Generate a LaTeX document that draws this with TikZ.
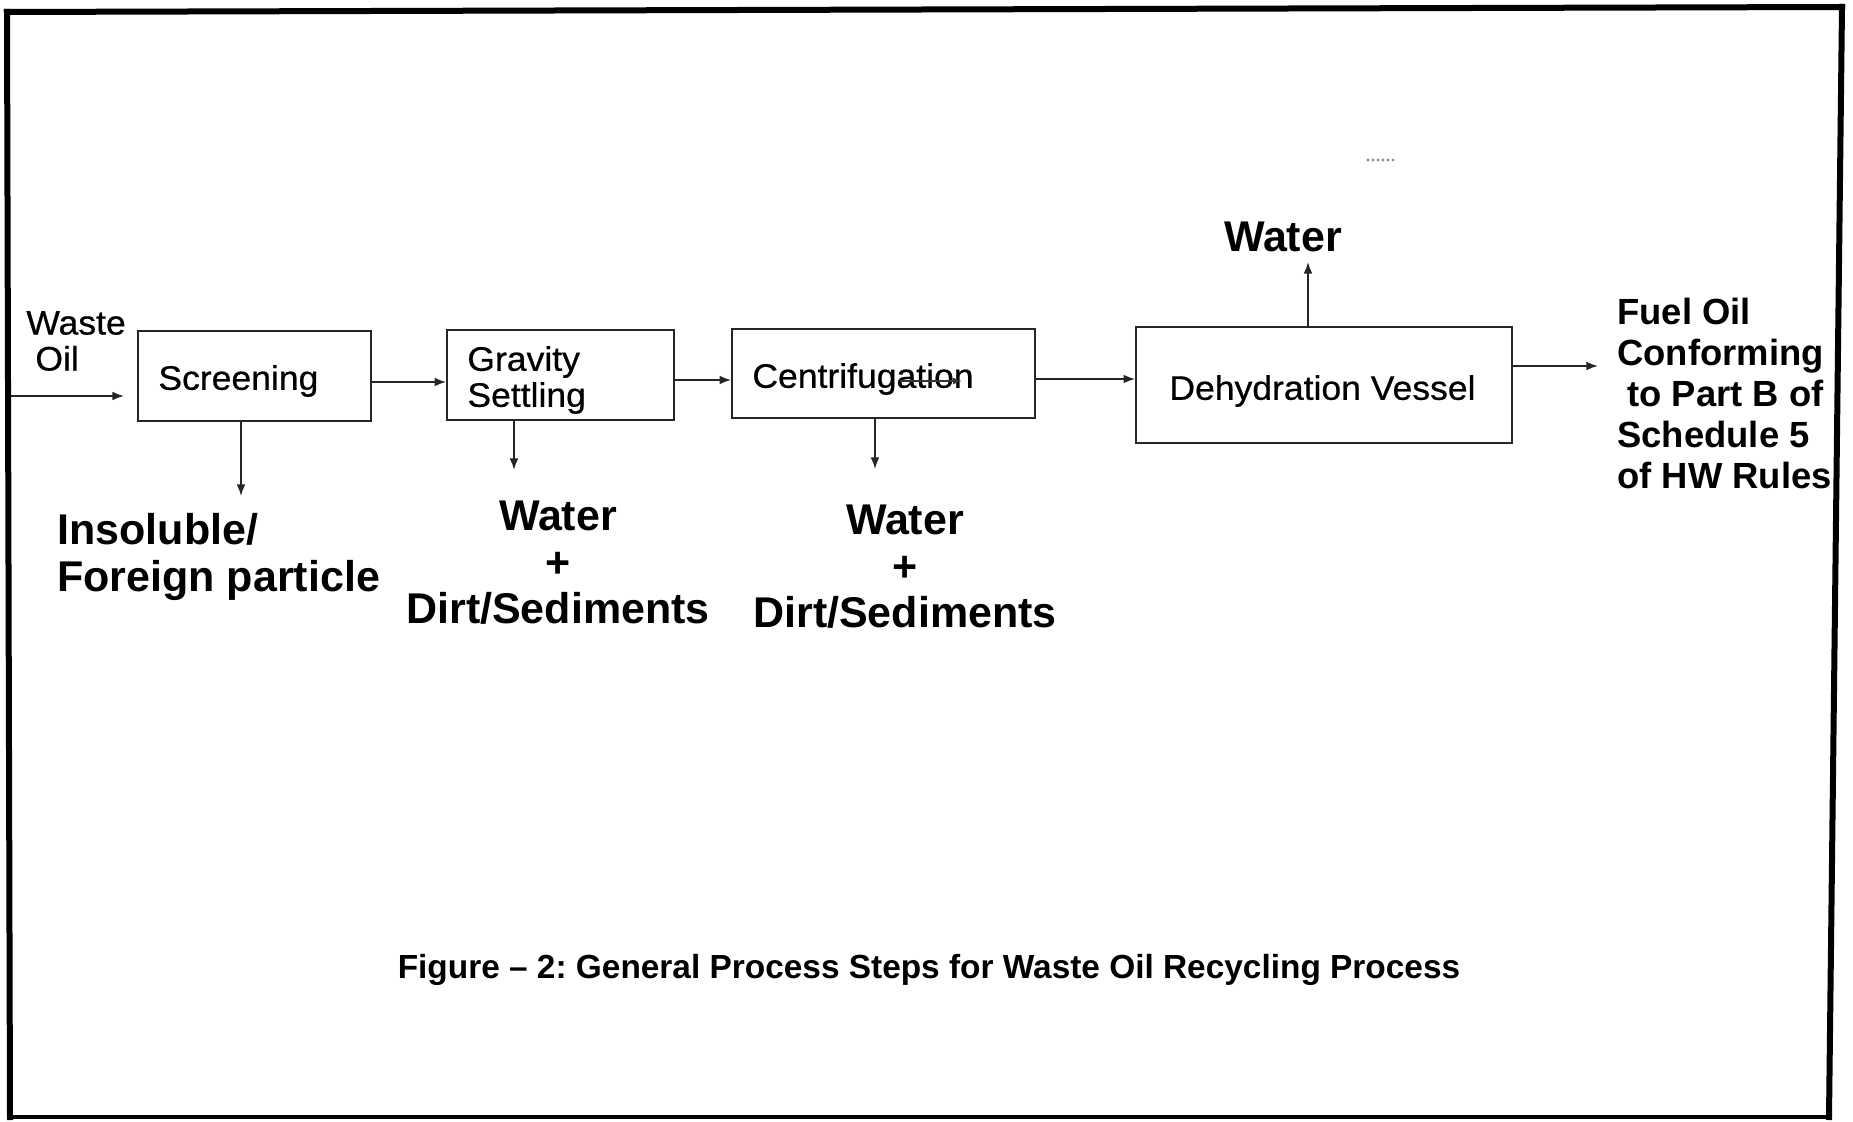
\documentclass[tikz,border=0pt]{standalone}
\usepackage{fontspec}
\setmainfont{Liberation Sans}
\newfontfamily\boxfont[FakeStretch=1.045,FakeBold=0.6]{Liberation Sans}
\usetikzlibrary{arrows.meta}
\frenchspacing
\begin{document}
\begin{tikzpicture}[x={(0.5pt,0)}, y={(0,-0.5pt)},
  box/.style={draw=black!85, line width=0.9pt, rectangle, inner sep=0pt},
  lbl/.style={inner sep=0pt, font=\boxfont\fontsize{17}{18}\selectfont, align=left},
  big/.style={inner sep=0pt, font=\fontsize{21.5}{23.2}\selectfont\bfseries, align=center},
  fuel/.style={inner sep=0pt, font=\fontsize{18.2}{20.5}\selectfont\bfseries, align=left},
  captext/.style={inner sep=0pt, font=\fontsize{16.7}{20}\selectfont\bfseries},
  arr/.style={draw=black!85, line width=0.8pt, -{Latex[length=5.8pt,width=4.4pt]}},
  framel/.style={draw=black, line cap=rect}
]
\useasboundingbox (0,0) rectangle (1853,1122);
\fill[white] (0,0) rectangle (1853,1122);

% process boxes
\node[box, minimum width=116.5pt, minimum height=45pt] (scr) at (254.5,376) {};
\node[box, minimum width=113.5pt, minimum height=45pt] (grav) at (560.5,375) {};
\node[box, minimum width=151.5pt, minimum height=44.5pt] (cent) at (883.5,373.5) {};
\node[box, minimum width=188pt, minimum height=58pt] (deh) at (1324,385) {};

% box labels
\node[lbl, anchor=west] (scrT) at (158,381) {Screening};
\node[lbl, anchor=west] (gravT) at (467,380) {Gravity\\Settling};
\node[lbl, anchor=west] (centT) at (752,379) {Centrifugation};
\node[lbl, anchor=west] (dehT) at (1169,391) {Dehydration Vessel};
\node[lbl, anchor=west] (waste) at (26,341) {Waste\\\hspace{4.5pt}Oil};

% outputs
\node[big] (wTop) at (1283,237) {Water};
\node[big, align=left, anchor=west] (insol) at (57,557) {Insoluble/\\Foreign particle};
\node[big] (wd1) at (558,563) {Water\\+\\Dirt/Sediments};
\node[big] (wd2) at (905,567) {Water\\+\\Dirt/Sediments};
\node[fuel, anchor=west] (fuel) at (1617,393) {Fuel Oil\\Conforming\\\hspace{5pt}to Part B of\\Schedule 5\\of HW Rules};
\node[captext] (caption) at (929,970) {Figure -- 2: General Process Steps for Waste Oil Recycling Process};

% helper coordinates
\coordinate (inStart) at (10,396);
\coordinate (inTip) at (124,396);
\coordinate (y1) at (0,382);
\coordinate (y2) at (0,380);
\coordinate (y3) at (0,379);
\coordinate (outTip) at (1598,366);
\coordinate (upTip) at (1308,262);
\coordinate (scrTip) at (241,496);
\coordinate (gravTip) at (514,470);
\coordinate (centTip) at (875,469);
\coordinate (artA) at (900,381);
\coordinate (artB) at (962,381);

% connectors
\draw[arr] (inStart) -- (inTip);
\draw[arr] (scr.east |- y1) -- (grav.west |- y1);
\draw[arr] (grav.east |- y2) -- (cent.west |- y2);
\draw[arr] (cent.east |- y3) -- (deh.west |- y3);
\draw[arr] (deh.east |- outTip) -- (outTip);
\draw[arr] (deh.north -| upTip) -- (upTip);
\draw[arr] (scr.south -| scrTip) -- (scrTip);
\draw[arr] (grav.south -| gravTip) -- (gravTip);
\draw[arr] (cent.south -| centTip) -- (centTip);
% stray arrow over the Centrifugation label
\draw[draw=black!80, line width=0.8pt, -{Latex[length=4.5pt,width=3.5pt]}] (artA) -- (artB);

% small dots
\foreach \i in {0,...,5} \fill[black!45] (1368+5*\i,160) circle (0.8pt);

% frame
\draw[framel, line width=3pt] (7,12) -- (1842,7);
\draw[framel, line width=3pt] (1842,7) -- (1829,1117);
\draw[framel, line width=1.6pt] (1829,1117) -- (10,1117);
\draw[framel, line width=3pt] (10,1117) -- (7,12);
\end{tikzpicture}
\end{document}
